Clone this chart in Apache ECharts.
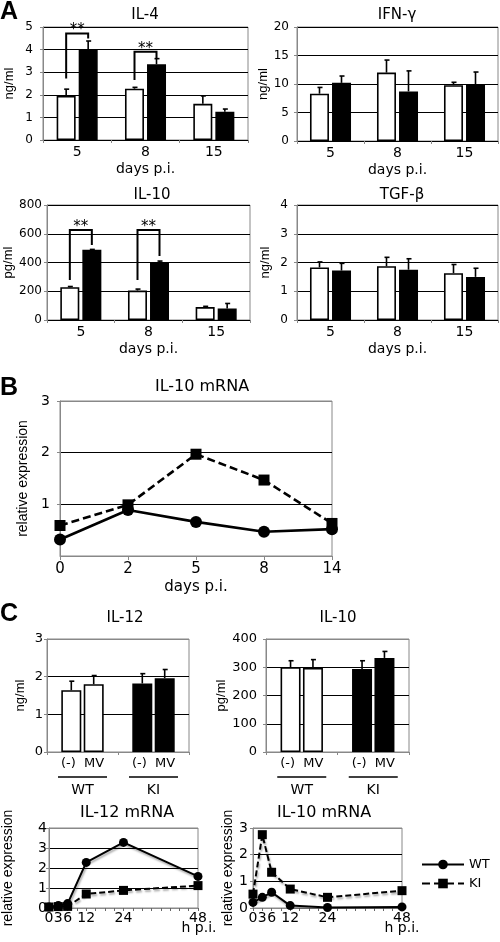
<!DOCTYPE html>
<html><head><meta charset="utf-8">
<script src="https://cdn.jsdelivr.net/npm/echarts@6/dist/echarts.min.js"></script>
<style>html,body{margin:0;padding:0;background:#fff}#c{width:500px;height:942px}</style>
</head><body><div id="c"></div>
<script>
// ---------- Panel A data ----------
const daysA = ['5', '8', '15'];
const il4WT = [1.95, 2.27, 1.6];
const il4WTsd = [0.3, 0.06, 0.35];
const il4KI = [4.02, 3.35, 1.25];
const il4KIsd = [0.36, 0.25, 0.12];
const il4Sig = [[0, 2.72, 4.71, 4.49], [1, 2.65, 3.9, 3.6]];
const ifnWT = [8.3, 12.0, 9.8];
const ifnWTsd = [1.1, 2.2, 0.5];
const ifnKI = [10.2, 8.7, 9.9];
const ifnKIsd = [1.2, 3.6, 2.2];
const il10aWT = [228, 205, 90];
const il10aWTsd = [5, 10, 5];
const il10aKI = [488, 398, 80];
const il10aKIsd = [3, 12, 35];
const il10aSig = [[0, 278, 626, 522], [1, 278, 626, 445]];
const tgfWT = [1.83, 1.87, 1.63];
const tgfWTsd = [0.19, 0.31, 0.30];
const tgfKI = [1.72, 1.75, 1.5];
const tgfKIsd = [0.25, 0.38, 0.3];
// ---------- Panel B data ----------
const daysB = ['0', '2', '5', '8', '14'];
const bWT = [0.32, 0.89, 0.66, 0.47, 0.52];
const bKI = [0.59, 0.99, 1.97, 1.47, 0.63];
// ---------- Panel C data ----------
const groupsC = ['WT', 'KI'];
const condC = ['(-)', 'MV'];
const il12Neg = [1.64, 1.82];
const il12NegSd = [0.24, 0.26];
const il12MV = [1.80, 1.96];
const il12MVSd = [0.23, 0.23];
const il10cNeg = [300, 294];
const il10cNegSd = [23, 29];
const il10cMV = [298, 333];
const il10cMVSd = [29, 23];
const hoursC = [0, 3, 6, 12, 24, 48];
const il12mWT = [0.05, 0.12, 0.22, 2.28, 3.28, 1.58];
const il12mKI = [0.05, 0.07, 0.08, 0.70, 0.88, 1.12];
const il10mWT = [0.21, 0.40, 0.59, 0.09, 0.02, 0.04];
const il10mKI = [0.52, 2.75, 1.34, 0.71, 0.40, 0.65];

const F = 'DejaVu Sans';
const FR = 'Liberation Sans';
const grids = [], xAxes = [], yAxes = [], series = [];

function addGrid(l, t, w, h) {
  grids.push({left: l, top: t, width: w, height: h, show: true, borderColor: '#888', borderWidth: 1, backgroundColor: 'transparent'});
  return grids.length - 1;
}
function errBar(off) {
  return function (params, api) {
    const c = api.coord([api.value(0), api.value(1)]);
    const t = api.coord([api.value(0), api.value(2)]);
    const x = c[0] + off;
    return {type: 'group', children: [
      {type: 'line', shape: {x1: x, y1: c[1], x2: x, y2: t[1]}, style: {stroke: '#000', lineWidth: 1.6}},
      {type: 'line', shape: {x1: x - 2, y1: t[1], x2: x + 3, y2: t[1]}, style: {stroke: '#000', lineWidth: 1.6}}
    ]};
  };
}
function sigBracket(off) {
  return function (params, api) {
    const c = api.value(0);
    const pL = api.coord([c, api.value(1)]);
    const pT = api.coord([c, api.value(2)]);
    const pR = api.coord([c, api.value(3)]);
    const xl = pL[0] - off, xr = pL[0] + off;
    return {type: 'group', children: [
      {type: 'polyline', shape: {points: [[xl, pL[1]], [xl, pT[1]], [xr, pT[1]], [xr, pR[1]]]}, style: {stroke: '#000', lineWidth: 2, fill: null}},
      {type: 'text', x: (xl + xr) / 2, y: pT[1] - 3, style: {text: '**', fill: '#000', font: '15px ' + F, align: 'center', verticalAlign: 'middle'}}
    ]};
  };
}
function yAxisCfg(gi, max, interval, name, nameGap, margin, opt) {
  opt = opt || {};
  return {
    gridIndex: gi, type: 'value', min: 0, max: max, interval: interval,
    name: name, nameLocation: 'middle', nameGap: nameGap,
    nameTextStyle: {fontFamily: FR, fontSize: opt.nameSize || 13, color: '#000'},
    axisLine: {show: true, lineStyle: {color: '#888'}},
    axisTick: {show: true, length: 3, lineStyle: {color: '#888'}},
    axisLabel: {color: '#000', fontFamily: F, fontSize: opt.labelSize || 12, margin: margin, showMinLabel: opt.showMin !== false},
    splitLine: {show: true, lineStyle: {color: opt.splitColor || '#000', width: 1}}
  };
}

// ---------- Panel A ----------
const OFF_A = 11;
function panelA(gi, wt, wtsd, ki, kisd, max, interval, yname, nameGap, margin, sig) {
  xAxes.push({
    gridIndex: gi, type: 'category', data: daysA,
    axisLine: {lineStyle: {color: '#000', width: 1}},
    axisTick: {show: true, length: 3, lineStyle: {color: '#888'}},
    axisLabel: {color: '#000', fontFamily: F, fontSize: 14, margin: 5},
    name: 'days p.i.', nameLocation: 'middle', nameGap: 22,
    nameTextStyle: {fontFamily: F, fontSize: 14, color: '#000'}
  });
  yAxes.push(yAxisCfg(gi, max, interval, yname, nameGap, margin));
  const xi = xAxes.length - 1, yi = yAxes.length - 1;
  series.push({type: 'bar', xAxisIndex: xi, yAxisIndex: yi, data: wt, barWidth: 19, barGap: '16%',
    itemStyle: {color: '#fff', borderColor: '#000', borderWidth: 1.6}, animation: false});
  series.push({type: 'bar', xAxisIndex: xi, yAxisIndex: yi, data: ki, barWidth: 19, barGap: '16%',
    itemStyle: {color: '#000', borderColor: '#000', borderWidth: 1.6}, animation: false});
  series.push({type: 'custom', xAxisIndex: xi, yAxisIndex: yi, z: 5, animation: false,
    data: wt.map((v, i) => [i, v, v + wtsd[i]]), renderItem: errBar(-OFF_A)});
  series.push({type: 'custom', xAxisIndex: xi, yAxisIndex: yi, z: 5, animation: false,
    data: ki.map((v, i) => [i, v, v + kisd[i]]), renderItem: errBar(OFF_A)});
  if (sig) series.push({type: 'custom', xAxisIndex: xi, yAxisIndex: yi, z: 6, animation: false,
    data: sig, renderItem: sigBracket(OFF_A)});
}
panelA(addGrid(43, 27, 205, 113), il4WT, il4WTsd, il4KI, il4KIsd, 5, 1, 'ng/ml', 27, 10, il4Sig);
panelA(addGrid(297, 27, 201, 114), ifnWT, ifnWTsd, ifnKI, ifnKIsd, 20, 5, 'ng/ml', 26, 8, null);
panelA(addGrid(47, 205, 203, 115), il10aWT, il10aWTsd, il10aKI, il10aKIsd, 800, 200, 'pg/ml', 31, 5, il10aSig);
panelA(addGrid(297, 205, 201, 115), tgfWT, tgfWTsd, tgfKI, tgfKIsd, 4, 1, 'ng/ml', 25, 9, null);

// ---------- Panel B ----------
(function () {
  const gi = addGrid(60, 401, 272, 155);
  xAxes.push({
    gridIndex: gi, type: 'category', data: daysB, boundaryGap: false,
    axisLine: {lineStyle: {color: '#888'}},
    axisTick: {show: true, length: 4, lineStyle: {color: '#888'}},
    axisLabel: {color: '#000', fontFamily: F, fontSize: 15, margin: 6},
    name: 'days p.i.', nameLocation: 'middle', nameGap: 24,
    nameTextStyle: {fontFamily: F, fontSize: 15, color: '#000'}
  });
  yAxes.push(yAxisCfg(gi, 3, 1, 'relative expression', 23, 10,
    {nameSize: 14, labelSize: 14, showMin: false, splitColor: ['#888', '#000', '#000', '#888']}));
  const xi = xAxes.length - 1, yi = yAxes.length - 1;
  series.push({type: 'line', name: 'WT', xAxisIndex: xi, yAxisIndex: yi, data: bWT, symbol: 'circle', symbolSize: 12,
    lineStyle: {color: '#000', width: 2.6}, itemStyle: {color: '#000'}, animation: false, z: 3});
  series.push({type: 'line', name: 'KI', xAxisIndex: xi, yAxisIndex: yi, data: bKI, symbol: 'rect', symbolSize: 11,
    lineStyle: {color: '#000', width: 2.6, type: [8, 4]}, itemStyle: {color: '#000'}, animation: false, z: 4});
})();

// ---------- Panel C top ----------
const OFF_C = 11.2;
function panelCbar(gi, neg, negSd, mv, mvSd, max, interval, yname, nameGap, margin) {
  xAxes.push({
    gridIndex: gi, type: 'category', data: groupsC,
    axisLine: {lineStyle: {color: '#888'}},
    axisTick: {show: true, length: 3, lineStyle: {color: '#888'}},
    axisLabel: {
      interval: 0, color: '#000', fontFamily: F, fontSize: 13, margin: 4,
      formatter: v => '{a|' + condC[0] + '}  {a|' + condC[1] + '}\n{l|}\n{t|' + v + '}',
      rich: {
        a: {fontFamily: F, fontSize: 13, color: '#000', lineHeight: 15},
        l: {width: 49, height: 1.6, backgroundColor: '#000', lineHeight: 12},
        t: {fontFamily: F, fontSize: 14, color: '#000', lineHeight: 15}
      }
    }
  });
  const sc = [];
  for (let i = 0; i <= max / interval; i++) sc.push(i === max / interval ? '#888' : '#000');
  yAxes.push(yAxisCfg(gi, max, interval, yname, nameGap, margin, {labelSize: 13, splitColor: sc}));
  const xi = xAxes.length - 1, yi = yAxes.length - 1;
  const cols = ['#fff', '#000'];
  const mk = arr => arr.map((v, i) => ({value: v, itemStyle: {color: cols[i]}}));
  series.push({type: 'bar', name: condC[0], xAxisIndex: xi, yAxisIndex: yi, data: mk(neg), barWidth: 20, barGap: '12%',
    itemStyle: {borderColor: '#000', borderWidth: 1.6}, animation: false});
  series.push({type: 'bar', name: condC[1], xAxisIndex: xi, yAxisIndex: yi, data: mk(mv), barWidth: 20, barGap: '12%',
    itemStyle: {borderColor: '#000', borderWidth: 1.6}, animation: false});
  series.push({type: 'custom', xAxisIndex: xi, yAxisIndex: yi, z: 5, animation: false,
    data: neg.map((v, i) => [i, v, v + negSd[i]]), renderItem: errBar(-OFF_C)});
  series.push({type: 'custom', xAxisIndex: xi, yAxisIndex: yi, z: 5, animation: false,
    data: mv.map((v, i) => [i, v, v + mvSd[i]]), renderItem: errBar(OFF_C)});
}
panelCbar(addGrid(47, 639, 142, 113), il12Neg, il12NegSd, il12MV, il12MVSd, 3, 1, 'ng/ml', 20, 4);
panelCbar(addGrid(266, 639, 143, 113), il10cNeg, il10cNegSd, il10cMV, il10cMVSd, 400, 100, 'pg/ml', 36, 9);

// ---------- Panel C bottom ----------
function panelCline(gi, wt, ki, max, nameGap, margin) {
  xAxes.push({
    gridIndex: gi, type: 'value', min: 0, max: 48, interval: 3,
    axisLine: {lineStyle: {color: '#888'}},
    axisTick: {show: true, length: 3, lineStyle: {color: '#666'}},
    axisLabel: {color: '#000', fontFamily: F, fontSize: 14, margin: 3,
      formatter: v => hoursC.indexOf(v) >= 0 ? String(v) : ''},
    splitLine: {show: false}
  });
  const sc = [];
  for (let i = 0; i <= max; i++) sc.push(i === max ? '#888' : '#000');
  yAxes.push(yAxisCfg(gi, max, 1, 'relative expression', nameGap, margin, {nameSize: 14, labelSize: 14, splitColor: sc}));
  const xi = xAxes.length - 1, yi = yAxes.length - 1;
  const shadow = {shadowColor: 'rgba(0,0,0,0.35)', shadowBlur: 2, shadowOffsetX: 1, shadowOffsetY: 2};
  series.push({type: 'line', name: 'WT', xAxisIndex: xi, yAxisIndex: yi, data: hoursC.map((h, i) => [h, wt[i]]),
    symbol: 'circle', symbolSize: 9, lineStyle: Object.assign({color: '#000', width: 2}, shadow),
    itemStyle: {color: '#000'}, animation: false, z: 3});
  series.push({type: 'line', name: 'KI', xAxisIndex: xi, yAxisIndex: yi, data: hoursC.map((h, i) => [h, ki[i]]),
    symbol: 'rect', symbolSize: 9, lineStyle: Object.assign({color: '#000', width: 2, type: [6, 3]}, shadow),
    itemStyle: {color: '#000'}, animation: false, z: 4});
}
panelCline(addGrid(49, 828, 149, 80), il12mWT, il12mKI, 4, 34, 2);
panelCline(addGrid(253, 828, 149, 80), il10mWT, il10mKI, 3, 13, 5);

// ---------- Titles, panel letters, unit labels ----------
function txt(t, x, y, font) {
  return {type: 'text', x: x, y: y, silent: true, style: {text: t, font: font, fill: '#000', align: 'center', verticalAlign: 'middle'}};
}
const TF = '15px ' + F;
const LF = 'bold 25px ' + FR;
const graphic = [
  txt('A', 9, 12, LF), txt('B', 9, 388, LF), txt('C', 9, 614, LF),
  txt('IL-4', 145, 15, TF), txt('IFN-γ', 397, 15, TF),
  txt('IL-10', 152, 195, TF), txt('TGF-β', 402, 195, TF),
  txt('IL-10 mRNA', 202, 387, '16px ' + F),
  txt('IL-12', 125, 618, TF), txt('IL-10', 338, 618, TF),
  txt('IL-12 mRNA', 127, 813, '16px ' + F), txt('IL-10 mRNA', 324, 813, '16px ' + F),
  txt('h p.i.', 199, 928, '14px ' + F), txt('h p.i.', 402, 928, '14px ' + F)
];

const chart = echarts.init(document.getElementById('c'), null, {renderer: 'canvas'});
chart.setOption({
  animation: false,
  backgroundColor: '#fff',
  textStyle: {fontFamily: F},
  grid: grids, xAxis: xAxes, yAxis: yAxes, series: series,
  legend: {
    data: ['WT', 'KI'], orient: 'vertical', left: 416, top: 853,
    itemWidth: 42, itemHeight: 12, itemGap: 6, selectedMode: false,
    textStyle: {fontFamily: F, fontSize: 13, color: '#000'}
  },
  graphic: graphic
});
</script>
</body></html>
